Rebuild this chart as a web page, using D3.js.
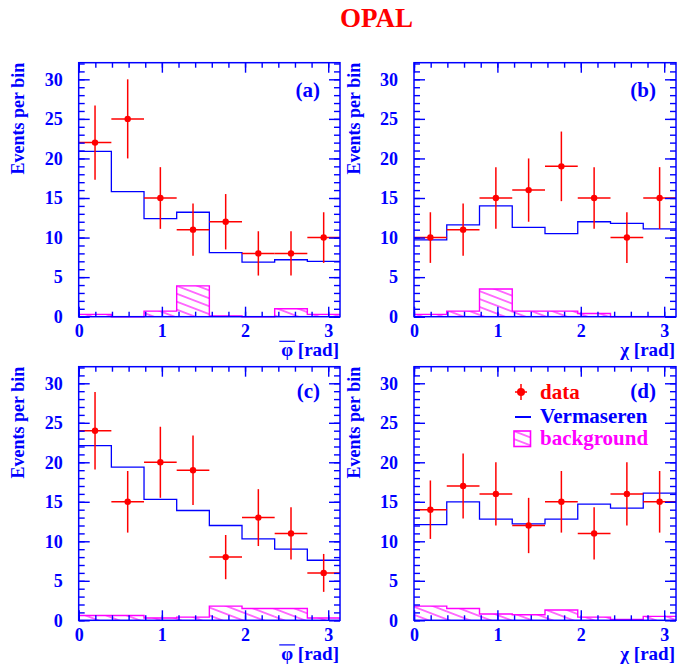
<!DOCTYPE html>
<html><head><meta charset="utf-8">
<script src="https://cdn.jsdelivr.net/npm/d3@7"></script>
<style>body{margin:0;background:#fff}svg{display:block}</style>
</head><body>
<svg id="chart" width="689" height="665"></svg>
<script>
// ---- data ----
const binLow = [0, 0.3927, 0.7854, 1.1781, 1.5708, 1.9635, 2.3562, 2.7489];
const binWidth = 0.3927;
const xTickMajor = [0, 1, 2, 3];
const yTickMajor = [0, 5, 10, 15, 20, 25, 30];

const dataA = [22, 25, 15, 11, 12, 8, 8, 10];
const errA  = [4.7, 5.0, 3.9, 3.3, 3.5, 2.8, 2.8, 3.2];
const vermA = [20.9, 15.8, 12.4, 13.2, 8.1, 6.9, 7.2, 7.0];
const bkgA  = [0.3, 0.0, 0.7, 3.9, 0.1, 0.0, 1.0, 0.3];

const dataB = [10, 11, 15, 16, 19, 15, 10, 15];
const errB  = [3.2, 3.3, 3.9, 4.0, 4.4, 3.9, 3.2, 3.9];
const vermB = [9.7, 11.6, 14.0, 11.3, 10.5, 12.0, 11.8, 11.1];
const bkgB  = [0.3, 0.7, 3.5, 0.7, 0.7, 0.4, 0.0, 0.0];

const dataC = [24, 15, 20, 19, 8, 13, 11, 6];
const errC  = [4.9, 3.9, 4.5, 4.4, 2.8, 3.6, 3.3, 2.4];
const vermC = [22.1, 19.4, 15.3, 13.9, 12.0, 10.3, 9.0, 7.6];
const bkgC  = [0.6, 0.6, 0.3, 0.4, 1.8, 1.5, 1.5, 0.3];

const dataD = [14, 17, 16, 12, 15, 11, 16, 15];
const errD  = [3.7, 4.1, 4.0, 3.5, 3.9, 3.3, 4.0, 3.9];
const vermD = [12.1, 15.0, 12.8, 12.2, 12.8, 14.7, 14.2, 16.1];
const bkgD  = [1.8, 1.5, 0.8, 0.7, 1.3, 0.4, 0.1, 0.5];

const panelLabels = ["(a)", "(b)", "(c)", "(d)"];
const xVars = ["φ", "χ", "φ", "χ"];
const yTitle = "Events per bin";
const legendLabels = ["data", "Vermaseren", "background"];
const title = "OPAL";

// ---- style ----
const BLUE = "#0000ff", RED = "#ff0000", MAG = "#ff00ff";
const FONT = "'Liberation Serif','Times New Roman',serif";
const yMax = 32.1;

const svg = d3.select("#chart");
svg.append("rect").attr("width", 689).attr("height", 665).attr("fill", "#fff");

const defs = svg.append("defs");
const pat = defs.append("pattern").attr("id", "hatch")
  .attr("patternUnits", "userSpaceOnUse").attr("width", 12).attr("height", 7.4)
  .attr("patternTransform", "rotate(21)");
pat.append("line").attr("x1", 0).attr("x2", 12).attr("y1", 3.7).attr("y2", 3.7)
  .attr("stroke", MAG).attr("stroke-width", 1.1);

svg.append("text").attr("x", 376.5).attr("y", 26.5).attr("text-anchor", "middle")
  .attr("font-family", FONT).attr("font-weight", "bold").attr("font-size", 27)
  .attr("fill", RED).text(title);

const panels = [
  {l: 78.7, r: 340, t: 62.7, b: 316.7, ly: 96.5, data: dataA, err: errA, verm: vermA, bkg: bkgA},
  {l: 414, r: 676, t: 62.7, b: 316.7, ly: 96.5, data: dataB, err: errB, verm: vermB, bkg: bkgB},
  {l: 78.7, r: 340, t: 366.7, b: 620.3, ly: 397.5, data: dataC, err: errC, verm: vermC, bkg: bkgC},
  {l: 414, r: 676, t: 366.7, b: 620.3, ly: 397.5, data: dataD, err: errD, verm: vermD, bkg: bkgD}
];

function stepPath(x, y, vals) {
  let d = "";
  vals.forEach((v, i) => {
    const x0 = x(binLow[i]), x1 = x(binLow[i] + binWidth);
    d += (i === 0 ? `M${x0},${y(v)}` : `V${y(v)}`) + `H${Math.min(x1, x.range()[1])}`;
  });
  return d;
}

panels.forEach((p, k) => {
  const x = d3.scaleLinear().domain([0, Math.PI]).range([p.l, p.r]);
  const y = d3.scaleLinear().domain([0, yMax]).range([p.b, p.t]);
  const g = svg.append("g");

  // background hatched histogram
  const bins = binLow.map((lo, i) => ({lo, v: p.bkg[i]}));
  g.selectAll(".bk").data(bins.filter(d => d.v > 0)).join("rect")
    .attr("x", d => x(d.lo)).attr("width", d => Math.min(x(d.lo + binWidth), p.r) - x(d.lo))
    .attr("y", d => y(d.v)).attr("height", d => y(0) - y(d.v))
    .attr("fill", "url(#hatch)");
  g.append("path").attr("d", stepPath(x, y, p.bkg)).attr("fill", "none")
    .attr("stroke", MAG).attr("stroke-width", 1.4);

  // Vermaseren histogram
  g.append("path").attr("d", stepPath(x, y, p.verm)).attr("fill", "none")
    .attr("stroke", BLUE).attr("stroke-width", 1.3);

  // data points
  const pts = binLow.map((lo, i) => ({lo, v: p.data[i], e: p.err[i]}));
  const pg = g.selectAll(".pt").data(pts).join("g");
  pg.append("line").attr("x1", d => x(d.lo)).attr("x2", d => Math.min(x(d.lo + binWidth), p.r))
    .attr("y1", d => y(d.v)).attr("y2", d => y(d.v)).attr("stroke", RED).attr("stroke-width", 1.5);
  pg.append("line").attr("x1", d => x(d.lo + binWidth / 2)).attr("x2", d => x(d.lo + binWidth / 2))
    .attr("y1", d => y(d.v - d.e)).attr("y2", d => y(d.v + d.e)).attr("stroke", RED).attr("stroke-width", 1.5);
  pg.append("circle").attr("cx", d => x(d.lo + binWidth / 2)).attr("cy", d => y(d.v))
    .attr("r", 3.2).attr("fill", RED);

  // axes with inward ticks
  const styleAxis = sel => {
    sel.select(".domain").remove();
    sel.selectAll("line").attr("stroke", BLUE).attr("stroke-width", 1.4);
    sel.selectAll("text").attr("fill", BLUE).attr("font-family", FONT)
      .attr("font-weight", "bold").attr("font-size", 18);
  };
  const xMinor = d3.range(0, 3.15, 0.2);
  const yMinor = d3.range(0, 33, 1);
  g.append("g").attr("transform", `translate(0,${p.b})`)
    .call(d3.axisBottom(x).tickValues(xMinor).tickSize(-5).tickFormat("")).call(styleAxis);
  g.append("g").attr("transform", `translate(0,${p.b})`)
    .call(d3.axisBottom(x).tickValues(xTickMajor).tickSize(-10).tickPadding(8).tickFormat(d3.format("d"))).call(styleAxis);
  g.append("g").attr("transform", `translate(0,${p.t})`)
    .call(d3.axisTop(x).tickValues(xMinor).tickSize(-5).tickFormat("")).call(styleAxis);
  g.append("g").attr("transform", `translate(0,${p.t})`)
    .call(d3.axisTop(x).tickValues(xTickMajor).tickSize(-10).tickFormat("")).call(styleAxis);
  g.append("g").attr("transform", `translate(${p.l},0)`)
    .call(d3.axisLeft(y).tickValues(yMinor).tickSize(-6).tickFormat("")).call(styleAxis);
  g.append("g").attr("transform", `translate(${p.l},0)`)
    .call(d3.axisLeft(y).tickValues(yTickMajor).tickSize(-11).tickPadding(16).tickFormat(d3.format("d"))).call(styleAxis);
  g.append("g").attr("transform", `translate(${p.r},0)`)
    .call(d3.axisRight(y).tickValues(yMinor).tickSize(-6).tickFormat("")).call(styleAxis);
  g.append("g").attr("transform", `translate(${p.r},0)`)
    .call(d3.axisRight(y).tickValues(yTickMajor).tickSize(-11).tickFormat("")).call(styleAxis);

  g.append("rect").attr("x", p.l).attr("y", p.t).attr("width", p.r - p.l).attr("height", p.b - p.t)
    .attr("fill", "none").attr("stroke", BLUE).attr("stroke-width", 1.5);

  // y title
  g.append("text").attr("transform", `translate(${p.l - 54.5},${p.t}) rotate(-90)`)
    .attr("text-anchor", "end").attr("font-family", FONT).attr("font-weight", "bold")
    .attr("font-size", 18).attr("fill", BLUE).text(yTitle);

  // x title
  const xt = g.append("text").attr("x", p.r - 1).attr("y", p.b + 39.6).attr("text-anchor", "end")
    .attr("font-family", FONT).attr("font-weight", "bold").attr("font-size", 19).attr("fill", BLUE);
  xt.append("tspan").text(xVars[k]);
  xt.append("tspan").text(" [rad]");
  if (xVars[k] === "φ") {
    const ext = xt.node().getExtentOfChar(0);
    g.append("line").attr("x1", ext.x - 2).attr("x2", ext.x + ext.width + 2)
      .attr("y1", ext.y + 2).attr("y2", ext.y + 2).attr("stroke", BLUE).attr("stroke-width", 1.2);
  }

  // panel label
  g.append("text").attr("x", p.r - 20).attr("y", p.ly).attr("text-anchor", "end")
    .attr("font-family", FONT).attr("font-weight", "bold").attr("font-size", 21)
    .attr("fill", BLUE).text(panelLabels[k]);
});

// legend in panel (d)
const lg = svg.append("g");
const lx = 521, tx = 540;
lg.append("line").attr("x1", lx - 6).attr("x2", lx + 6).attr("y1", 392).attr("y2", 392).attr("stroke", RED).attr("stroke-width", 1.5);
lg.append("line").attr("x1", lx).attr("x2", lx).attr("y1", 384).attr("y2", 400).attr("stroke", RED).attr("stroke-width", 1.5);
lg.append("circle").attr("cx", lx).attr("cy", 392).attr("r", 4).attr("fill", RED);
lg.append("line").attr("x1", 515).attr("x2", 531).attr("y1", 417).attr("y2", 417).attr("stroke", BLUE).attr("stroke-width", 2);
lg.append("rect").attr("x", 514).attr("y", 431).attr("width", 16.5).attr("height", 15.5)
  .attr("fill", "url(#hatch)").attr("stroke", MAG).attr("stroke-width", 1.6);
const legColors = [RED, BLUE, MAG];
const legY = [398.5, 422.8, 445];
legendLabels.forEach((t, i) => {
  lg.append("text").attr("x", tx).attr("y", legY[i]).attr("font-family", FONT)
    .attr("font-weight", "bold").attr("font-size", 21).attr("fill", legColors[i]).text(t);
});
</script>
</body></html>
